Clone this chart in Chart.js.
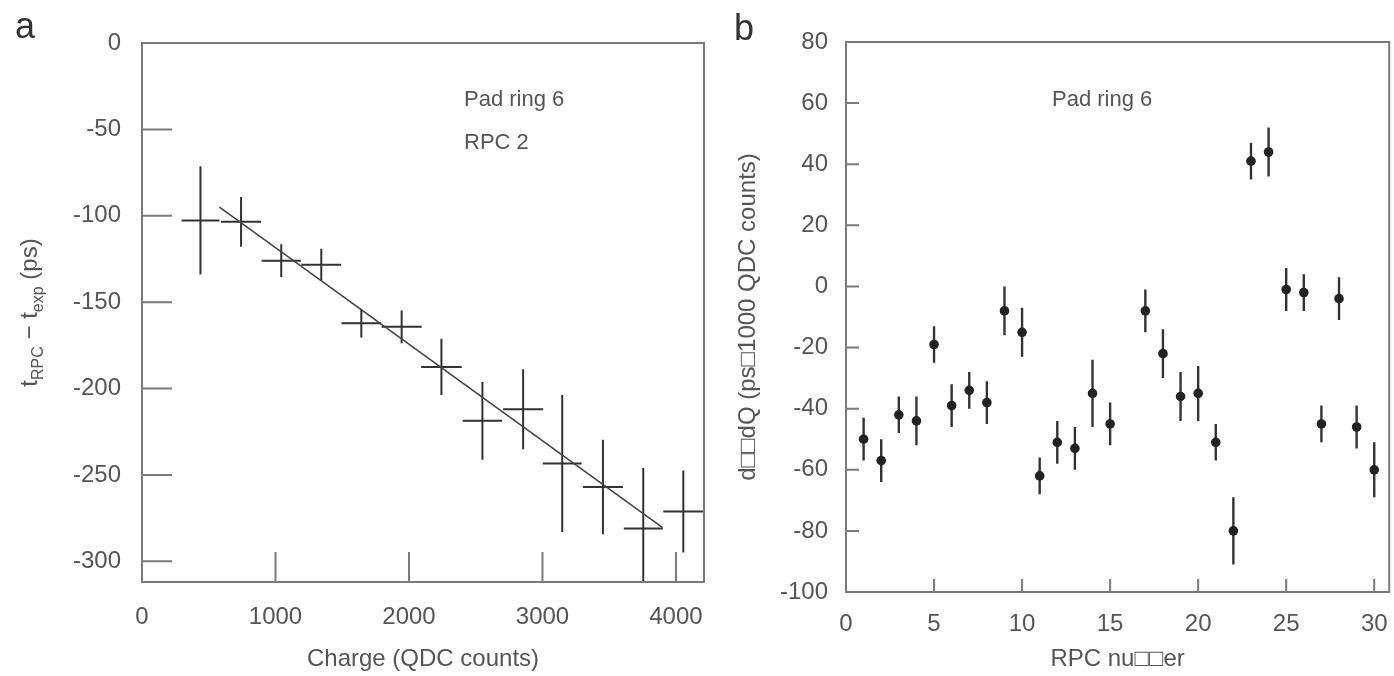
<!DOCTYPE html>
<html>
<head>
<meta charset="utf-8">
<script src="https://cdn.jsdelivr.net/npm/chart.js@4.4.1/dist/chart.umd.min.js"></script>
<style>
  html, body { margin: 0; padding: 0; background: #fff; }
  #wrap { position: relative; width: 1394px; height: 676px; }
  #left { position: absolute; left: 0; top: 0; width: 720px; height: 676px; }
  #right { position: absolute; left: 720px; top: 0; width: 674px; height: 676px; }
</style>
</head>
<body>
<div id="wrap">
  <canvas id="left" width="720" height="676"></canvas>
  <canvas id="right" width="674" height="676"></canvas>
</div>
<script>
/* ===== data, panel a ===== */
const chargeX = [438, 742, 1043, 1343, 1643, 1945, 2243, 2550, 2855, 3148, 3453, 3755, 4055];
const chargeXErr = [142, 150, 147, 149, 148, 150, 152, 147, 150, 146, 150, 146, 150];
const timeY = [-102.7, -103.5, -126, -128.3, -162.2, -164.3, -187.5, -218.7, -212, -243.4, -257, -281, -271.2];
const timeYErr = [31.3, 14.4, 9.5, 9.2, 8.3, 9.5, 16.3, 22.5, 23.2, 39.7, 27.3, 35, 23.7];
const fitX = [580, 3900];
const fitY = [-95, -280.5];
const chargeTicks = [0, 1000, 2000, 3000, 4000];
const timeTicks = [0, -50, -100, -150, -200, -250, -300];

/* ===== data, panel b ===== */
const rpcNumber = [1, 2, 3, 4, 5, 6, 7, 8, 9, 10, 11, 12, 13, 14, 15, 17, 18, 19, 20, 21, 22, 23, 24, 25, 26, 27, 28, 29, 30];
const slope = [-50, -57, -42, -44, -19, -39, -34, -38, -8, -15, -62, -51, -53, -35, -45, -8, -22, -36, -35, -51, -80, 41, 44, -1, -2, -45, -4, -46, -60];
const slopeErr = [7, 7, 6, 8, 6, 7, 6, 7, 8, 8, 6, 7, 7, 11, 7, 7, 8, 8, 9, 6, 11, 6, 8, 7, 6, 6, 7, 7, 9];
const rpcTicks = [0, 5, 10, 15, 20, 25, 30];
const slopeTicks = [80, 60, 40, 20, 0, -20, -40, -60, -80, -100];

const FONT = '"Liberation Sans", Arial, Helvetica, sans-serif';
const GREY = '#555';

function fixTicks(list) {
  return (s) => { s.ticks = list.map((v) => ({ value: v })); };
}

// no auto padding for overflowing labels, the boxes are fixed
function boxHeight(h) {
  return (s) => { s.height = h; s.paddingLeft = 0; s.paddingRight = 0; };
}
function boxWidth(w) {
  return (s) => { s.width = w; s.paddingTop = 0; s.paddingBottom = 0; };
}

/* frame, inward ticks, error bars and texts */
function framePlugin(opts) {
  return {
    id: 'frame',
    beforeDatasetsDraw(chart) {
      const { ctx, chartArea: a } = chart;
      ctx.save();
      ctx.beginPath();
      ctx.rect(a.left, a.top, a.right - a.left, a.bottom - a.top);
      ctx.clip();
      opts.bars(chart, ctx);
      ctx.restore();
    },
    afterDraw(chart) {
      const { ctx, chartArea: a, scales } = chart;
      const x = scales.x, y = scales.y;
      ctx.save();
      ctx.strokeStyle = '#7a7a7a';
      ctx.lineWidth = 2;
      ctx.strokeRect(a.left, a.top, a.right - a.left, a.bottom - a.top);
      ctx.beginPath();
      x.ticks.forEach((t) => {
        const px = x.getPixelForValue(t.value);
        ctx.moveTo(px, a.bottom);
        ctx.lineTo(px, a.bottom - opts.tick);
      });
      y.ticks.forEach((t) => {
        const py = y.getPixelForValue(t.value);
        ctx.moveTo(a.left, py);
        ctx.lineTo(a.left + opts.tick, py);
      });
      ctx.stroke();

      ctx.fillStyle = GREY;
      ctx.textBaseline = 'middle';
      ctx.textAlign = 'left';
      ctx.font = '22px ' + FONT;
      opts.notes.forEach((n) => ctx.fillText(n.text, n.x, n.y));

      ctx.fillStyle = '#333';
      ctx.textBaseline = 'alphabetic';
      ctx.font = '36px ' + FONT;
      ctx.fillText(opts.panel.text, opts.panel.x, opts.panel.y);

      if (opts.extra) opts.extra(chart, ctx);
      ctx.restore();
    }
  };
}

const plain = (v) => String(v);

/* ===== panel a ===== */
new Chart(document.getElementById('left'), {
  type: 'scatter',
  data: {
    datasets: [
      {
        data: chargeX.map((v, i) => ({ x: v, y: timeY[i] })),
        pointRadius: 0,
        showLine: false
      },
      {
        data: fitX.map((v, i) => ({ x: v, y: fitY[i] })),
        showLine: true,
        pointRadius: 0,
        borderColor: '#444',
        borderWidth: 1.6
      }
    ]
  },
  options: {
    responsive: false,
    animation: false,
    layout: { padding: { left: 0, top: 43, right: 16, bottom: 0 } },
    plugins: { legend: { display: false }, tooltip: { enabled: false } },
    scales: {
      x: {
        type: 'linear', min: 0, max: 4210,
        afterBuildTicks: fixTicks(chargeTicks),
        afterFit: boxHeight(94),
        grid: { display: false, drawTicks: false },
        border: { display: false },
        ticks: { color: GREY, padding: 21, callback: plain, font: { family: FONT, size: 24 } },
        title: { display: true, text: 'Charge (QDC counts)', color: GREY,
                 font: { family: FONT, size: 24 }, padding: { top: 0, bottom: 2 } }
      },
      y: {
        type: 'linear', min: -312, max: 0,
        afterBuildTicks: fixTicks(timeTicks),
        afterFit: boxWidth(142),
        grid: { display: false, drawTicks: false },
        border: { display: false },
        ticks: { color: GREY, padding: 21, callback: plain, font: { family: FONT, size: 24 } }
      }
    }
  },
  plugins: [framePlugin({
    tick: 30,
    notes: [
      { text: 'Pad ring 6', x: 464, y: 100 },
      { text: 'RPC 2', x: 464, y: 143 }
    ],
    panel: { text: 'a', x: 15, y: 38 },
    bars(chart, ctx) {
      const { x, y } = chart.scales;
      ctx.strokeStyle = '#333';
      ctx.lineWidth = 2;
      ctx.beginPath();
      chargeX.forEach((v, i) => {
        const cx = x.getPixelForValue(v), cy = y.getPixelForValue(timeY[i]);
        ctx.moveTo(x.getPixelForValue(v - chargeXErr[i]), cy);
        ctx.lineTo(x.getPixelForValue(v + chargeXErr[i]), cy);
        ctx.moveTo(cx, y.getPixelForValue(timeY[i] + timeYErr[i]));
        ctx.lineTo(cx, y.getPixelForValue(timeY[i] - timeYErr[i]));
      });
      ctx.stroke();
    },
    extra(chart, ctx) {
      // y title with subscripts
      const parts = [
        { t: 't', sub: false }, { t: 'RPC', sub: true },
        { t: ' \u2212 t', sub: false }, { t: 'exp', sub: true },
        { t: ' (ps)', sub: false }
      ];
      const big = '24px ' + FONT, small = '16px ' + FONT;
      let total = 0;
      parts.forEach((p) => { ctx.font = p.sub ? small : big; p.w = ctx.measureText(p.t).width; total += p.w; });
      const a = chart.chartArea;
      ctx.translate(37, (a.top + a.bottom) / 2);
      ctx.rotate(-Math.PI / 2);
      ctx.fillStyle = GREY;
      ctx.textAlign = 'left';
      ctx.textBaseline = 'alphabetic';
      let px = -total / 2;
      parts.forEach((p) => {
        ctx.font = p.sub ? small : big;
        ctx.fillText(p.t, px, p.sub ? 6 : 0);
        px += p.w;
      });
    }
  })]
});

/* ===== panel b ===== */
new Chart(document.getElementById('right'), {
  type: 'scatter',
  data: {
    datasets: [{
      data: rpcNumber.map((v, i) => ({ x: v, y: slope[i] })),
      pointRadius: 4.8,
      pointBackgroundColor: '#222',
      pointBorderColor: '#222',
      pointBorderWidth: 0,
      showLine: false
    }]
  },
  options: {
    responsive: false,
    animation: false,
    layout: { padding: { left: 0, top: 42, right: 2, bottom: 0 } },
    plugins: { legend: { display: false }, tooltip: { enabled: false } },
    scales: {
      x: {
        type: 'linear', min: 0, max: 30.85,
        afterBuildTicks: fixTicks(rpcTicks),
        afterFit: boxHeight(84),
        grid: { display: false, drawTicks: false },
        border: { display: false },
        ticks: { color: GREY, padding: 18, callback: plain, font: { family: FONT, size: 24 } },
        title: { display: true, text: 'RPC nu\u25a1\u25a1er', color: GREY,
                 font: { family: FONT, size: 24 }, padding: { top: 0, bottom: 2 } }
      },
      y: {
        type: 'linear', min: -100, max: 80,
        afterBuildTicks: fixTicks(slopeTicks),
        afterFit: boxWidth(126),
        grid: { display: false, drawTicks: false },
        border: { display: false },
        ticks: { color: GREY, padding: 18, callback: plain, font: { family: FONT, size: 24 } },
        title: { display: true, text: 'd\u25a1\u25a1dQ (ps\u25a11000 QDC counts)', color: GREY,
                 font: { family: FONT, size: 24 }, padding: { top: 14, bottom: 0 } }
      }
    }
  },
  plugins: [framePlugin({
    tick: 13,
    notes: [{ text: 'Pad ring 6', x: 332, y: 100 }],
    panel: { text: 'b', x: 14, y: 40 },
    bars(chart, ctx) {
      const { x, y } = chart.scales;
      ctx.strokeStyle = '#333';
      ctx.lineWidth = 2.4;
      ctx.beginPath();
      rpcNumber.forEach((v, i) => {
        const cx = x.getPixelForValue(v);
        ctx.moveTo(cx, y.getPixelForValue(slope[i] + slopeErr[i]));
        ctx.lineTo(cx, y.getPixelForValue(slope[i] - slopeErr[i]));
      });
      ctx.stroke();
    }
  })]
});
</script>
</body>
</html>
